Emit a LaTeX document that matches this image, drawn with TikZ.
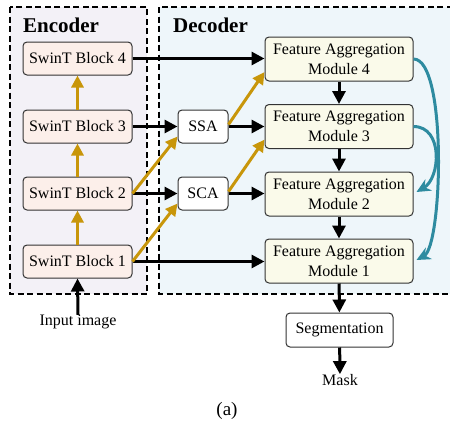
\documentclass[tikz,border=0pt]{standalone}
\usepackage{fontspec}
\setmainfont{Liberation Serif}
\usetikzlibrary{arrows.meta}

\definecolor{encbg}{HTML}{F3F1F7}
\definecolor{decbg}{HTML}{EEF6FA}
\definecolor{blockfill}{HTML}{FCEFEA}
\definecolor{famfill}{HTML}{FAFAEA}
\definecolor{gold}{HTML}{C8960A}
\definecolor{tealc}{HTML}{2E8BA0}
\definecolor{edge}{HTML}{333333}

\tikzset{
  txt/.style={font=\fontsize{16}{20}\selectfont, inner sep=0pt},
  box/.style={txt, draw=edge, line width=1pt, rounded corners=4pt, align=center},
  swin/.style={box, fill=blockfill, minimum width=109pt, minimum height=33pt},
  fam/.style={box, fill=famfill, minimum width=148pt, minimum height=44pt},
  attn/.style={box, fill=white, minimum width=50pt, minimum height=33pt},
  segbox/.style={box, fill=white, minimum width=107pt, minimum height=34pt},
  panel/.style={draw=black, line width=2pt, dash pattern=on 6pt off 3.5pt},
  title/.style={font=\fontsize{21}{24}\selectfont\bfseries, inner sep=0pt, anchor=west},
  blk/.style={line width=3pt, -{Triangle[length=13pt,width=13pt]}},
  gld/.style={draw=gold, line width=3pt, -{Triangle[length=12pt,width=12pt]}, gold},
  tl/.style={draw=tealc, line width=3pt, -{Stealth[length=14pt,width=13pt]}, tealc}
}

\begin{document}
\begin{tikzpicture}[x=1pt,y=-1pt]
  \useasboundingbox (0,0) rectangle (450,426);
  \clip (0,0) rectangle (450,426);

  % panels
  \draw[panel, fill=encbg] (10,7) rectangle (147,294);
  \draw[panel, fill=decbg] (159,7) rectangle (470,294);
  \node[title] (enctitle) at (23,25) {Encoder};
  \node[title] (dectitle) at (173,25) {Decoder};

  % encoder blocks
  \node[swin] (b4) at (77.5,58.5) {SwinT Block 4};
  \node[swin] (b3) at (77.5,126.5) {SwinT Block 3};
  \node[swin] (b2) at (77.5,193.5) {SwinT Block 2};
  \node[swin] (b1) at (77.5,261.5) {SwinT Block 1};

  % attention blocks
  \node[attn] (ssa) at (203,126.5) {SSA};
  \node[attn] (sca) at (203,193.5) {SCA};

  % aggregation modules
  \node[fam] (f4) at (339,59) {Feature Aggregation\\Module 4};
  \node[fam] (f3) at (339,126.5) {Feature Aggregation\\Module 3};
  \node[fam] (f2) at (339,194) {Feature Aggregation\\Module 2};
  \node[fam] (f1) at (339,261) {Feature Aggregation\\Module 1};

  % head
  \node[segbox] (seg) at (339.5,330) {Segmentation};
  \node[txt] (mask) at (340,380) {Mask};
  \node[txt] (inp) at (78,322) {Input image};
  \node[txt, font=\fontsize{19}{22}\selectfont] (cap) at (227,411) {(a)};

  % encoder flow
  \draw[gld] (b1) -- (b2);
  \draw[gld] (b2) -- (b3);
  \draw[gld] (b3) -- (b4);
  \draw[blk] (inp.north) -- (b1.south);

  % skip connections
  \draw[blk] (b4.east) -- (f4.west |- b4.east);
  \draw[blk] (b3.east) -- (ssa.west);
  \draw[blk] (b2.east) -- (sca.west);
  \draw[blk] (b1.east) -- (f1.west |- b1.east);
  \draw[blk] (ssa.east) -- (f3.west |- ssa.east);
  \draw[blk] (sca.east) -- (f2.west |- sca.east);

  % cross-level links
  \draw[gld] (b2.east) -- ([yshift=-10pt]ssa.west);
  \draw[gld] (b1.east) -- ([yshift=-10pt]sca.west);
  \draw[gld] ([yshift=2pt]ssa.east) -- ([yshift=-13pt]f4.west);
  \draw[gld] ([yshift=2pt]sca.east) -- ([yshift=-13pt]f3.west);

  % decoder flow
  \draw[blk] (f4) -- (f3);
  \draw[blk] (f3) -- (f2);
  \draw[blk] (f2) -- (f1);
  \draw[blk] (f1) -- (seg);
  \draw[blk] (seg) -- (mask);

  % long-range links
  \draw[tl] (f4.east) .. controls +(34,0) and +(26,-14) .. ([xshift=3pt,yshift=1pt]f1.east);
  \draw[tl] (f3.east) .. controls +(30,0) and +(24,-14) .. ([xshift=3pt,yshift=2pt]f2.east);
\end{tikzpicture}
\end{document}
